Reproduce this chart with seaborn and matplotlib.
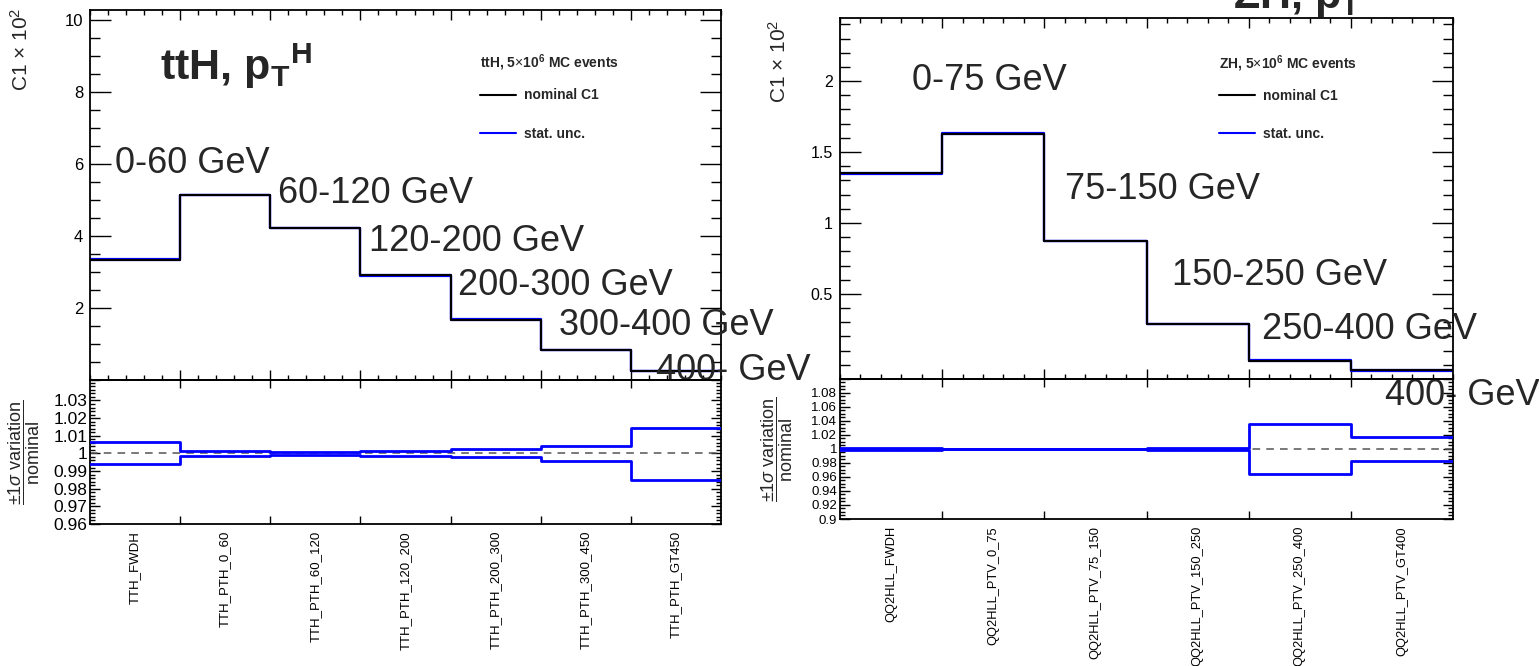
import numpy as np
import pandas as pd
import matplotlib
matplotlib.use("Agg")
import matplotlib.pyplot as plt
from matplotlib.lines import Line2D
from matplotlib.ticker import FixedLocator, MultipleLocator, FuncFormatter
import seaborn as sns

# ---------------- ttH, pT(H) ----------------
tth_bins = ["TTH_FWDH", "TTH_PTH_0_60", "TTH_PTH_60_120", "TTH_PTH_120_200",
            "TTH_PTH_200_300", "TTH_PTH_300_450", "TTH_PTH_GT450"]
tth_c1 = [3.35, 5.15, 4.23, 2.91, 1.68, 0.83, 0.26]          # C1 x 10^2
tth_up = [1.0062, 1.0015, 1.0010, 1.0012, 1.0023, 1.0042, 1.0145]
tth_down = [0.9938, 0.9985, 0.9990, 0.9986, 0.9977, 0.9957, 0.9851]
tth_ranges = ["0-60 GeV", "60-120 GeV", "120-200 GeV", "200-300 GeV",
              "300-400 GeV", "400- GeV"]

# ---------------- ZH, pT(V) ----------------
zh_bins = ["QQ2HLL_FWDH", "QQ2HLL_PTV_0_75", "QQ2HLL_PTV_75_150",
           "QQ2HLL_PTV_150_250", "QQ2HLL_PTV_250_400", "QQ2HLL_PTV_GT400"]
zh_c1 = [1.35, 1.63, 0.87, 0.29, 0.03, -0.04]                # C1 x 10^2
zh_up = [1.0020, 1.0005, 1.0005, 1.0020, 1.0360, 1.0174]
zh_down = [0.9980, 0.9995, 0.9995, 0.9980, 0.9640, 0.9826]
zh_ranges = ["0-75 GeV", "75-150 GeV", "150-250 GeV", "250-400 GeV", "400- GeV"]

# where the pT-range annotations sit (x in bin units, y = text baseline)
tth_range_pos = [(0.28, 5.76), (2.085, 4.93), (3.10, 3.58), (4.08, 2.375),
                 (5.205, 1.26), (6.275, 0.01)]
zh_range_pos = [(0.70, 1.94), (2.20, 1.17), (3.25, 0.56), (4.13, 0.18),
                (5.33, -0.28)]

sns.set_theme(style="ticks")
plt.rcParams["font.family"] = ["Liberation Sans", "DejaVu Sans"]
plt.rcParams["mathtext.fontset"] = "custom"
plt.rcParams["mathtext.rm"] = "Liberation Sans"
plt.rcParams["mathtext.it"] = "Liberation Sans:italic"
plt.rcParams["mathtext.bf"] = "Liberation Sans:bold"
plt.rcParams["axes.edgecolor"] = "black"
plt.rcParams["axes.linewidth"] = 1.3
plt.rcParams["xtick.color"] = "black"
plt.rcParams["ytick.color"] = "black"

BLUE = "#0000ff"
fig = plt.figure(figsize=(15.39, 6.66), dpi=100)

W, H = 1539.0, 666.0


def box(x0, y0, x1, y1):
    return [x0 / W, 1 - y1 / H, (x1 - x0) / W, (y1 - y0) / H]


def steps(ax, values, color, lw, z):
    n = len(values)
    df = pd.DataFrame({"x": np.arange(n + 1), "y": list(values) + [values[-1]]})
    sns.lineplot(data=df, x="x", y="y", ax=ax, color=color, lw=lw,
                 drawstyle="steps-post", sort=False, estimator=None, zorder=z)
    ax.set_xlabel("")
    ax.set_ylabel("")


def fmt(v, _):
    return f"{v:.2f}".rstrip("0").rstrip(".")


def upper_panel(ax, c1, up, down, ylim, ymaj, ymin_step, lsize, ranges, rpos,
                title_lines, leg_y):
    n = len(c1)
    steps(ax, [c * u for c, u in zip(c1, up)], BLUE, 1.6, 2)
    steps(ax, [c * d for c, d in zip(c1, down)], BLUE, 1.6, 2)
    steps(ax, c1, "black", 1.5, 3)
    ax.set_xlim(0, n)
    ax.set_ylim(*ylim)
    ax.xaxis.set_major_locator(FixedLocator(range(1, n)))
    ax.xaxis.set_minor_locator(MultipleLocator(0.2))
    ax.yaxis.set_major_locator(FixedLocator(ymaj))
    ax.yaxis.set_minor_locator(MultipleLocator(ymin_step))
    ax.yaxis.set_major_formatter(FuncFormatter(fmt))
    ax.tick_params(which="both", direction="in", top=True, right=True,
                   labelbottom=False, width=1.0)
    ax.tick_params(axis="x", which="major", length=7)
    ax.tick_params(axis="x", which="minor", length=3.6)
    ax.tick_params(axis="y", which="major", length=15, labelsize=lsize, pad=5)
    ax.tick_params(axis="y", which="minor", length=7)
    for txt, (x, y) in zip(ranges, rpos):
        ax.text(x, y, txt, fontsize=26, ha="left", va="baseline",
                clip_on=False, zorder=5)
    handles = [Line2D([], [], color="black", lw=1.5, label="nominal C1"),
               Line2D([], [], color=BLUE, lw=1.5, label="stat. unc.")]
    leg = ax.legend(handles=handles, title=title_lines, loc="upper left",
                    bbox_to_anchor=(0.618, leg_y), frameon=False,
                    prop={"weight": "bold", "size": 10},
                    title_fontproperties={"weight": "bold", "size": 10},
                    alignment="left", handlelength=2.6, handletextpad=0.6,
                    labelspacing=1.75, borderpad=0, borderaxespad=0)
    leg._legend_box.sep = 11


def ratio_panel(ax, bins, up, down, ylim, ymaj, ymin_step, lsize, tsize):
    n = len(bins)
    ax.patch.set_alpha(0)
    steps(ax, up, BLUE, 2.0, 3)
    steps(ax, down, BLUE, 2.0, 3)
    ax.axhline(1.0, color="#555555", lw=1.1, ls=(0, (5, 4)), zorder=2)
    ax.set_xlim(0, n)
    ax.set_ylim(*ylim)
    ax.set_xticks(np.arange(n) + 0.5)
    ax.set_xticklabels(bins, rotation=90, fontsize=tsize)
    ax.xaxis.set_minor_locator(FixedLocator(range(1, n)))
    ax.yaxis.set_major_locator(FixedLocator(ymaj))
    ax.yaxis.set_minor_locator(MultipleLocator(ymin_step))
    ax.yaxis.set_major_formatter(FuncFormatter(fmt))
    ax.tick_params(which="both", direction="in", top=True, right=True, width=1.0)
    ax.tick_params(axis="x", which="major", length=0, pad=5)
    ax.tick_params(axis="x", which="minor", length=6)
    ax.tick_params(axis="y", which="major", length=7, labelsize=lsize, pad=2)
    ax.tick_params(axis="y", which="minor", length=3.5)
    ax.set_ylabel(r"$\dfrac{\pm1\sigma\ \mathrm{variation}}{\mathrm{nominal}}$",
                  fontsize=13)


# ---- left: ttH ----
ax_lu = fig.add_axes(box(90, 10, 721, 380))
ax_lr = fig.add_axes(box(90, 380, 721, 524))
upper_panel(ax_lu, tth_c1, tth_up, tth_down, (0, 10.29), [2, 4, 6, 8, 10], 0.5,
            12, tth_ranges, tth_range_pos,
            r"ttH, 5$\times$10$^{\mathbf{6}}$ MC events", 0.885)
ax_lu.set_ylabel(r"C1 $\times$ 10$^{2}$", fontsize=15, loc="top")
ax_lu.yaxis.set_label_coords(-0.092, 1.005)
ax_lu.text(0.111, 0.811, r"ttH, p$_{\mathbf{T}}{}^{\mathbf{H}}$", transform=ax_lu.transAxes,
           fontsize=31, fontweight="bold", ha="left", va="baseline")
ratio_panel(ax_lr, tth_bins, tth_up, tth_down, (0.96, 1.0416),
            np.round(np.arange(0.96, 1.035, 0.01), 2), 0.002, 12.5, 9.5)
ax_lr.yaxis.set_label_coords(-0.076, 0.5)

# ---- right: ZH ----
ax_ru = fig.add_axes(box(840, 18, 1453, 379))
ax_rr = fig.add_axes(box(840, 379, 1453, 519))
upper_panel(ax_ru, zh_c1, zh_up, zh_down, (-0.1, 2.445), [0.5, 1, 1.5, 2], 0.1,
            11.5, zh_ranges, zh_range_pos,
            r"ZH, 5$\times$10$^{\mathbf{6}}$ MC events", 0.903)
ax_ru.set_ylabel(r"C1 $\times$ 10$^{2}$", fontsize=15, loc="top")
ax_ru.yaxis.set_label_coords(-0.082, 0.995)
fig.text(1233 / W, 1 - 9 / H, r"ZH, p$_{\mathbf{T}}{}^{\mathbf{V}}$",
         fontsize=31, fontweight="bold", ha="left", va="baseline")
ratio_panel(ax_rr, zh_bins, zh_up, zh_down, (0.9, 1.0998),
            np.round(np.arange(0.9, 1.085, 0.02), 2), 0.005, 9.5, 9.3)
ax_rr.yaxis.set_label_coords(-0.073, 0.5)

fig.savefig("out.png", dpi=100, facecolor="white")
